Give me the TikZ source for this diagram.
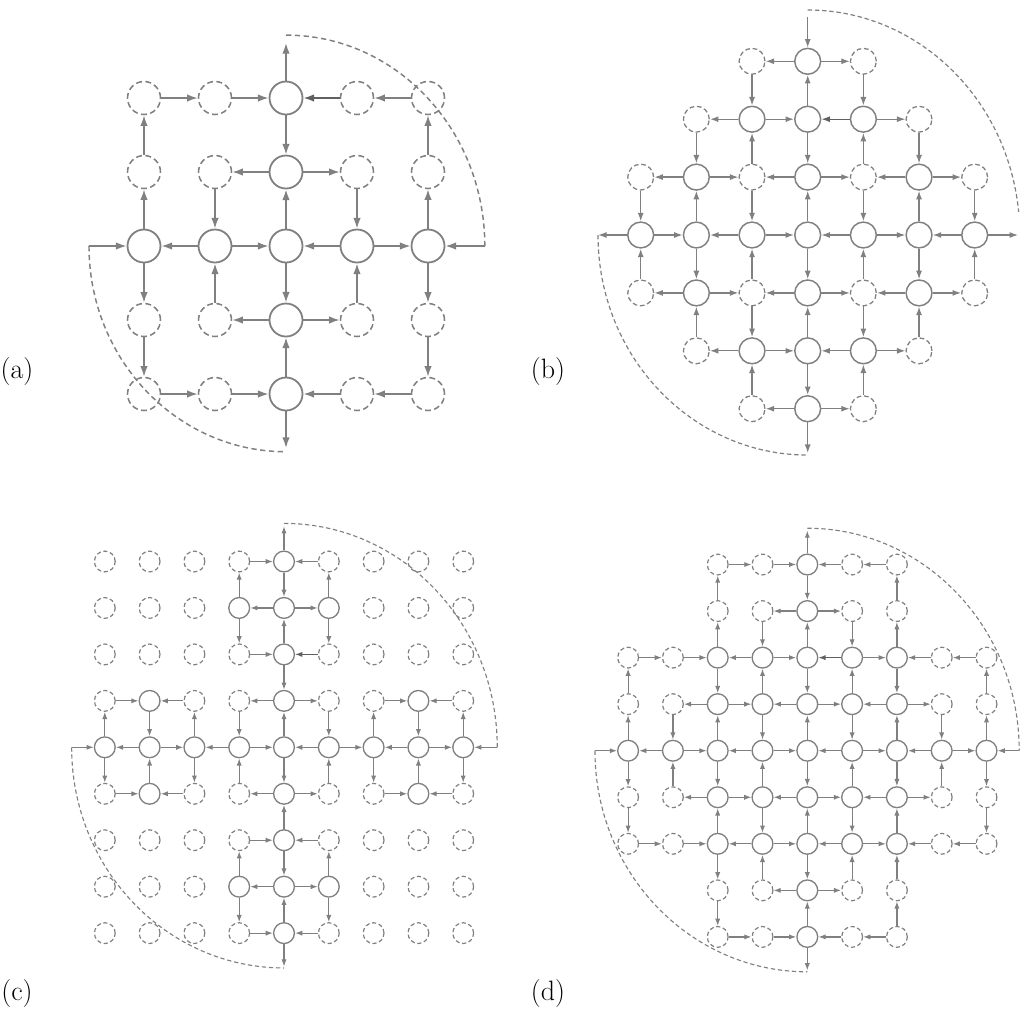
\documentclass[tikz,border=0pt]{standalone}
\usetikzlibrary{arrows.meta}
\tikzset{
  pa/.style={
    sn/.style={circle,draw=gray,line width=1.35pt,minimum size=24.75pt,inner sep=0pt},
    dn/.style={circle,draw=gray,line width=1.15pt,dash pattern=on 4.4pt off 2.6pt,minimum size=24.75pt,inner sep=0pt},
    arr/.style={draw=gray,line width=1.2pt,-{Latex[length=8pt,width=5.6pt]}},
    darr/.style={arr,draw=gray!75!black},
    bigarc/.style={draw=gray,line width=1.1pt,dash pattern=on 4pt off 2.6pt},
  },
  pb/.style={
    sn/.style={circle,draw=gray,line width=1.1pt,minimum size=19.4pt,inner sep=0pt},
    dn/.style={circle,draw=gray,line width=0.95pt,dash pattern=on 3.5pt off 2.1pt,minimum size=19.4pt,inner sep=0pt},
    arr/.style={draw=gray,line width=1pt,-{Latex[length=6.4pt,width=4.5pt]}},
    darr/.style={arr,draw=gray!75!black},
    bigarc/.style={draw=gray,line width=0.9pt,dash pattern=on 3.3pt off 2.1pt},
  },
  pc/.style={
    sn/.style={circle,draw=gray,line width=1pt,minimum size=15.6pt,inner sep=0pt},
    dn/.style={circle,draw=gray,line width=0.9pt,dash pattern=on 3.1pt off 2pt,minimum size=15.6pt,inner sep=0pt},
    arr/.style={draw=gray,line width=0.9pt,-{Latex[length=5.4pt,width=3.9pt]}},
    darr/.style={arr,draw=gray!75!black},
    bigarc/.style={draw=gray,line width=0.85pt,dash pattern=on 3.2pt off 2.1pt},
  },
  lbl/.style={font=\fontsize{21}{25}\selectfont,inner sep=0pt},
}
\begin{document}
\begin{tikzpicture}[x=0.75pt,y=0.75pt]
\useasboundingbox (0,0) rectangle (1020,-1008);

% ---------------- (a)
\begin{scope}[shift={(286,-246)},x=53.25pt,y=55.5pt,pa]
\foreach \i/\j in {2/0,2/1,0/2,1/2,2/2,3/2,4/2,2/3,2/4}
  \node[sn] (a-\i-\j) at ({\i-2},{2-\j}) {};
\foreach \i/\j in {0/0,1/0,3/0,4/0,0/1,1/1,3/1,4/1,0/3,1/3,3/3,4/3,0/4,1/4,3/4,4/4}
  \node[dn] (a-\i-\j) at ({\i-2},{2-\j}) {};
\foreach \ia/\ja/\ib/\jb in {0/0/1/0,1/0/2/0,4/0/3/0,
  2/0/2/1,0/1/0/0,4/1/4/0,
  2/1/1/1,2/1/3/1,1/1/1/2,3/1/3/2,2/2/2/1,0/2/0/1,4/2/4/1,
  1/2/0/2,1/2/2/2,3/2/2/2,3/2/4/2,0/2/0/3,2/2/2/3,4/2/4/3,1/3/1/2,3/3/3/2,
  2/3/1/3,2/3/3/3,0/3/0/4,2/4/2/3,4/3/4/4,
  0/4/1/4,1/4/2/4,3/4/2/4,4/4/3/4}
  \draw[arr] (a-\ia-\ja) -- (a-\ib-\jb);
\draw[darr] (a-3-0) -- (a-2-0);
\coordinate (aT) at (0,2.743);
\coordinate (aTa) at (0,2.85);
\coordinate (aR) at (2.8,0);
\coordinate (aL) at (-2.775,0);
\coordinate (aB) at (0,-2.73);
\draw[arr] (a-2-0) -- (aT);
\draw[arr] (aR) -- (a-4-2);
\draw[arr] (aL) -- (a-0-2);
\draw[arr] (a-2-4) -- (aB);
\draw[bigarc] (aTa) arc[start angle=90,end angle=0,x radius=2.8,y radius=2.85];
\draw[bigarc] (aL) arc[start angle=180,end angle=270,x radius=2.775,y radius=2.78];
\end{scope}

% ---------------- (b)
\begin{scope}[shift={(807.7,-235)},x=41.75pt,y=43.43pt,pb]
\foreach \i/\j in {3/0,2/1,3/1,4/1,1/2,3/2,5/2,0/3,1/3,2/3,3/3,4/3,5/3,6/3,1/4,3/4,5/4,2/5,3/5,4/5,3/6}
  \node[sn] (b-\i-\j) at ({\i-3},{3-\j}) {};
\foreach \i/\j in {2/0,4/0,1/1,5/1,0/2,2/2,4/2,6/2,0/4,2/4,4/4,6/4,1/5,5/5,2/6,4/6}
  \node[dn] (b-\i-\j) at ({\i-3},{3-\j}) {};
\foreach \ia/\ja/\ib/\jb in {3/0/2/0,3/0/4/0,2/0/2/1,3/1/3/0,4/0/4/1,
  2/1/1/1,2/1/3/1,4/1/5/1,
  1/1/1/2,2/2/2/1,3/1/3/2,4/2/4/1,5/1/5/2,
  1/2/0/2,1/2/2/2,3/2/2/2,3/2/4/2,5/2/4/2,5/2/6/2,
  0/2/0/3,1/3/1/2,2/2/2/3,3/3/3/2,4/2/4/3,5/3/5/2,6/2/6/3,
  0/3/1/3,2/3/1/3,2/3/3/3,4/3/3/3,4/3/5/3,6/3/5/3,
  0/4/0/3,1/3/1/4,2/4/2/3,3/3/3/4,4/4/4/3,5/3/5/4,6/4/6/3,
  1/4/0/4,1/4/2/4,3/4/2/4,3/4/4/4,5/4/4/4,5/4/6/4,
  1/5/1/4,2/4/2/5,3/5/3/4,4/4/4/5,5/5/5/4,
  2/5/1/5,2/5/3/5,4/5/3/5,4/5/5/5,
  2/6/2/5,3/5/3/6,4/6/4/5,
  3/6/2/6,3/6/4/6}
  \draw[arr] (b-\ia-\ja) -- (b-\ib-\jb);
\draw[darr] (b-4-1) -- (b-3-1);
\coordinate (bT) at (0,3.77);
\coordinate (bTa) at (0,3.886);
\coordinate (bR) at (3.78,0);
\coordinate (bL) at (-3.767,0);
\coordinate (bB) at (0,-3.765);
\draw[arr] (bT) -- (b-3-0);
\draw[arr] (b-6-3) -- (bR);
\draw[arr] (b-0-3) -- (bL);
\draw[arr] (b-3-6) -- (bB);
\draw[bigarc] (bTa) arc[start angle=90,end angle=5.9,x radius=3.81,y radius=3.886];
\draw[bigarc] (bL) arc[start angle=180,end angle=270,x radius=3.767,y radius=3.8];
\end{scope}

% ---------------- (c)
\begin{scope}[shift={(284,-747.3)},x=33.6pt,y=34.84pt,pc]
\foreach \i/\j in {4/0,3/1,4/1,5/1,4/2,1/3,4/3,7/3,0/4,1/4,2/4,3/4,4/4,5/4,6/4,7/4,8/4,1/5,4/5,7/5,4/6,3/7,4/7,5/7,4/8}
  \node[sn] (c-\i-\j) at ({\i-4},{4-\j}) {};
\foreach \j/\cols in {0/{0,1,2,3,5,6,7,8},1/{0,1,2,6,7,8},2/{0,1,2,3,5,6,7,8},3/{0,2,3,5,6,8},
  5/{0,2,3,5,6,8},6/{0,1,2,3,5,6,7,8},7/{0,1,2,6,7,8},8/{0,1,2,3,5,6,7,8}}
  {\foreach \i in \cols {\node[dn] (c-\i-\j) at ({\i-4},{4-\j}) {};}}
\foreach \ia/\ja/\ib/\jb in {3/0/4/0,5/0/4/0,3/1/3/0,4/0/4/1,5/1/5/0,
  4/1/3/1,4/1/5/1,3/1/3/2,4/2/4/1,5/1/5/2,
  3/2/4/2,4/2/4/3,
  4/3/3/3,4/3/5/3,3/3/3/4,4/4/4/3,5/3/5/4,
  0/3/1/3,2/3/1/3,0/4/0/3,1/3/1/4,2/4/2/3,
  6/3/7/3,8/3/7/3,6/4/6/3,7/3/7/4,8/4/8/3,
  1/4/0/4,1/4/2/4,3/4/2/4,3/4/4/4,5/4/4/4,5/4/6/4,7/4/6/4,7/4/8/4,
  0/4/0/5,1/5/1/4,2/4/2/5,3/5/3/4,4/4/4/5,5/5/5/4,6/4/6/5,7/5/7/4,8/4/8/5,
  0/5/1/5,2/5/1/5,4/5/3/5,4/5/5/5,6/5/7/5,8/5/7/5,
  4/6/4/5,
  3/6/4/6,5/6/4/6,3/7/3/6,4/6/4/7,5/7/5/6,
  4/7/3/7,4/7/5/7,3/7/3/8,4/8/4/7,5/7/5/8,
  3/8/4/8,5/8/4/8}
  \draw[arr] (c-\ia-\ja) -- (c-\ib-\jb);
\draw[darr] (c-5-2) -- (c-4-2);
\coordinate (cT) at (0,4.76);
\coordinate (cTa) at (0,4.82);
\coordinate (cR) at (4.76,0);
\coordinate (cL) at (-4.74,0);
\coordinate (cB) at (0,-4.72);
\draw[arr] (c-4-0) -- (cT);
\draw[arr] (cR) -- (c-8-4);
\draw[arr] (cL) -- (c-0-4);
\draw[arr] (c-4-8) -- (cB);
\draw[bigarc] (cTa) arc[start angle=90,end angle=0,x radius=4.76,y radius=4.82];
\draw[bigarc] (cL) arc[start angle=180,end angle=270,x radius=4.74,y radius=4.75];
\end{scope}

% ---------------- (d)
\begin{scope}[shift={(807.3,-750.7)},x=33.6pt,y=34.91pt,pc]
\foreach \j in {0,1,7,8} {
  \node[sn] (d-4-\j) at (0,{4-\j}) {};
  \foreach \i in {2,3,5,6} {\node[dn] (d-\i-\j) at ({\i-4},{4-\j}) {};}
}
\foreach \j in {2,3,5,6} {
  \foreach \i in {2,3,4,5,6} {\node[sn] (d-\i-\j) at ({\i-4},{4-\j}) {};}
  \foreach \i in {0,1,7,8} {\node[dn] (d-\i-\j) at ({\i-4},{4-\j}) {};}
}
\foreach \i in {0,...,8} {\node[sn] (d-\i-4) at ({\i-4},0) {};}
\foreach \ia/\ja/\ib/\jb in {2/0/3/0,3/0/4/0,5/0/4/0,6/0/5/0,
  2/1/2/0,4/0/4/1,6/1/6/0,
  4/1/3/1,4/1/5/1,
  2/2/2/1,3/1/3/2,4/2/4/1,5/1/5/2,6/2/6/1,
  0/2/1/2,1/2/2/2,3/2/2/2,3/2/4/2,5/2/6/2,7/2/6/2,8/2/7/2,
  0/3/0/2,2/2/2/3,3/3/3/2,4/2/4/3,5/3/5/2,6/2/6/3,8/3/8/2,
  2/3/1/3,2/3/3/3,4/3/3/3,4/3/5/3,6/3/5/3,6/3/7/3,
  0/4/0/3,1/3/1/4,2/4/2/3,3/3/3/4,4/4/4/3,5/3/5/4,6/4/6/3,7/3/7/4,8/4/8/3,
  1/4/0/4,1/4/2/4,3/4/2/4,3/4/4/4,5/4/4/4,5/4/6/4,7/4/6/4,7/4/8/4,
  0/4/0/5,1/5/1/4,2/4/2/5,3/5/3/4,4/4/4/5,5/5/5/4,6/4/6/5,7/5/7/4,8/4/8/5,
  2/5/1/5,2/5/3/5,4/5/3/5,4/5/5/5,6/5/5/5,6/5/7/5,
  0/5/0/6,2/6/2/5,3/5/3/6,4/6/4/5,5/5/5/6,6/6/6/5,8/5/8/6,
  0/6/1/6,1/6/2/6,3/6/2/6,3/6/4/6,5/6/4/6,5/6/6/6,7/6/6/6,8/6/7/6,
  2/6/2/7,3/7/3/6,4/6/4/7,5/7/5/6,6/7/6/6,
  4/7/3/7,4/7/5/7,
  2/7/2/8,4/8/4/7,6/8/6/7,
  2/8/3/8,3/8/4/8,5/8/4/8,6/8/5/8}
  \draw[arr] (d-\ia-\ja) -- (d-\ib-\jb);
\draw[darr] (d-5-2) -- (d-4-2);
\coordinate (dT) at (0,4.73);
\coordinate (dTa) at (0,4.78);
\coordinate (dR) at (4.73,0);
\coordinate (dL) at (-4.74,0);
\coordinate (dB) at (0,-4.72);
\draw[arr] (d-4-0) -- (dT);
\draw[arr] (dR) -- (d-8-4);
\draw[arr] (dL) -- (d-0-4);
\draw[arr] (d-4-8) -- (dB);
\draw[bigarc] (dTa) arc[start angle=90,end angle=0,x radius=4.73,y radius=4.78];
\draw[bigarc] (dL) arc[start angle=180,end angle=270,x radius=4.74,y radius=4.75];
\end{scope}

% ---------------- labels
\node[lbl] (la) at (17,-372) {(a)};
\node[lbl] (lb) at (548,-372) {(b)};
\node[lbl] (lc) at (17,-993) {(c)};
\node[lbl] (ld) at (548,-993) {(d)};
\end{tikzpicture}
\end{document}
